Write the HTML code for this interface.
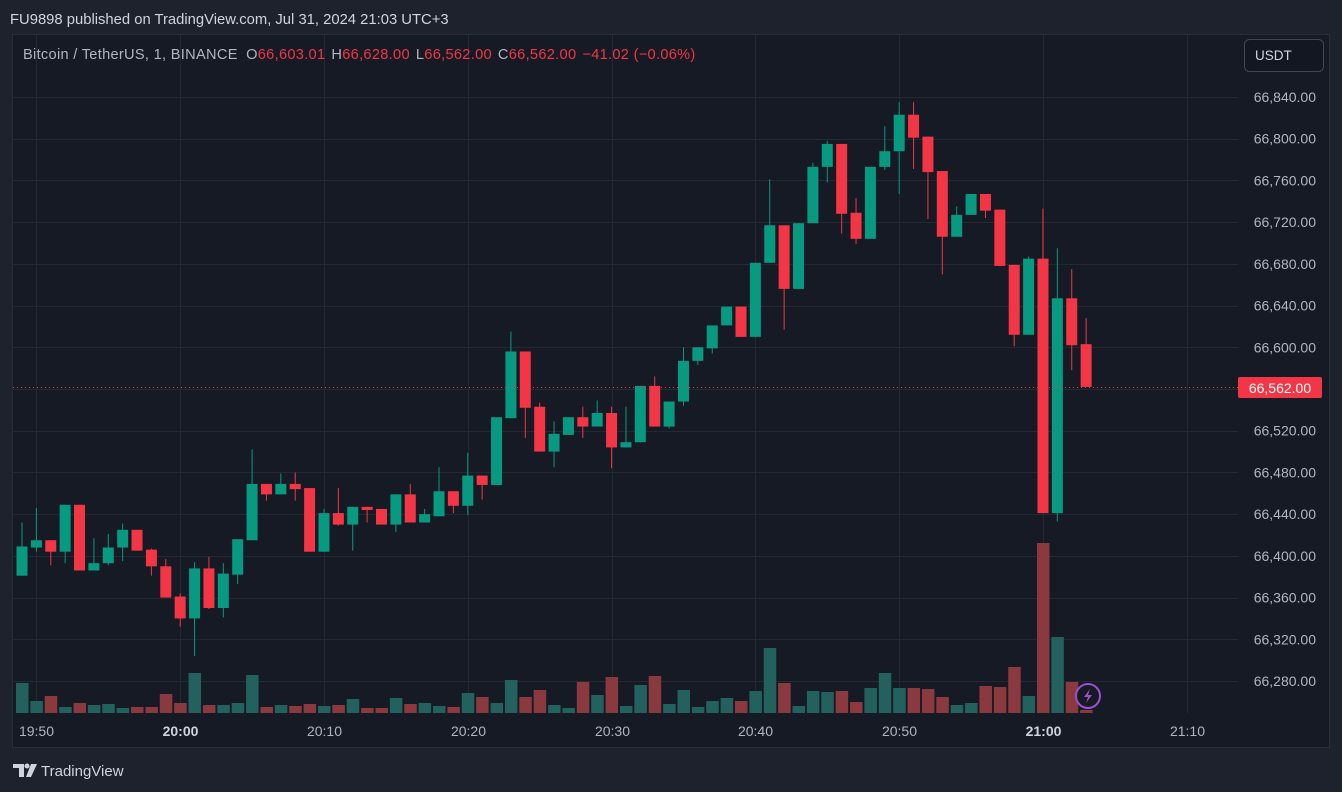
<!DOCTYPE html>
<html><head><meta charset="utf-8"><style>
html,body{margin:0;padding:0;background:#1e222d;width:1342px;height:792px;overflow:hidden;font-family:"Liberation Sans",sans-serif;}
svg{display:block}
</style></head><body>
<svg id="chart" width="1342" height="792" xmlns="http://www.w3.org/2000/svg">
<rect x="0" y="0" width="1342" height="792" fill="#1e222d"/>
<text x="10" y="24" font-size="14.8" fill="#d1d4dc">FU9898 published on TradingView.com, Jul 31, 2024 21:03 UTC+3</text>
<rect x="12.5" y="34.5" width="1317" height="713" fill="#161a25" stroke="#2a2e39"/>
<g id="grid"></g>
<g id="vols"></g>
<g id="candles"></g>
<line x1="13" y1="387.5" x2="1238" y2="387.5" stroke="#f23645" stroke-width="1" stroke-dasharray="1,3"/>
<g id="yaxis"></g>
<g id="xaxis"></g>
<text x="23" y="59" font-size="14.6" letter-spacing="0.3" fill="#b2b5be">Bitcoin / TetherUS, 1, BINANCE <tspan dx="4">O</tspan><tspan fill="#f23645">66,603.01</tspan><tspan dx="6">H</tspan><tspan fill="#f23645">66,628.00</tspan><tspan dx="6">L</tspan><tspan fill="#f23645">66,562.00</tspan><tspan dx="6">C</tspan><tspan fill="#f23645">66,562.00</tspan><tspan dx="6" fill="#f23645">−41.02 (−0.06%)</tspan></text>
<g>
<rect x="1244.5" y="39.5" width="79" height="32" rx="5" fill="#131722" stroke="#434651"/>
<text x="1255" y="60" font-size="13.5" fill="#d1d4dc">USDT</text>
</g>
<g>
<rect x="1238" y="377" width="84" height="21" rx="2" fill="#f23645"/>
<text x="1280" y="393" font-size="14" fill="#ffffff" text-anchor="middle">66,562.00</text>
</g>
<g>
<circle cx="1088" cy="696" r="12" fill="#161a25" stroke="#9c4fd1" stroke-width="2"/>
<path d="M1090 689 L1084 697 L1088 697 L1086 703 L1092 695 L1088 695 Z" fill="#9c4fd1"/>
</g>
<g>
<path d="M13 764 H24 V777 H19 V768 H13 Z" fill="#d1d4dc"/>
<circle cx="27" cy="766" r="2.5" fill="#d1d4dc"/>
<path d="M31 764 H37 L31 777 H26 Z" fill="#d1d4dc"/>
<text x="41" y="776" font-size="15" fill="#d1d4dc">TradingView</text>
</g>
</svg>
<script>
const opens  = [66381,66408,66415,66404,66449,66386,66393,66408,66425,66406,66390,66361,66340,66388,66350,66382,66415,66469,66459,66469,66465,66404,66441,66430,66447,66445,66430,66459,66432,66438,66462,66448,66477,66468,66532,66596,66543,66500,66516,66533,66524,66537,66504,66509,66563,66524,66548,66587,66599,66621,66639,66610,66681,66717,66656,66719,66773,66795,66729,66704,66773,66788,66823,66802,66769,66706,66727,66747,66732,66679,66612,66685,66441,66647,66603];
const highs  = [66432,66446,66415,66449,66449,66417,66421,66431,66425,66407,66397,66364,66394,66399,66393,66416,66502,66469,66479,66480,66465,66445,66465,66447,66447,66445,66459,66469,66445,66485,66462,66499,66477,66468,66615,66596,66547,66529,66533,66543,66549,66543,66543,66563,66572,66548,66600,66600,66621,66639,66639,66681,66761,66717,66719,66777,66798,66795,66743,66773,66812,66835,66835,66802,66769,66735,66747,66747,66732,66679,66687,66733,66695,66675,66628];
const lows   = [66381,66404,66391,66393,66386,66386,66391,66395,66405,66381,66360,66332,66304,66349,66341,66373,66415,66453,66459,66453,66404,66404,66429,66405,66432,66430,66423,66432,66432,66438,66441,66439,66454,66468,66532,66513,66500,66485,66516,66513,66524,66484,66504,66509,66524,66522,66544,66583,66594,66621,66610,66610,66681,66617,66656,66719,66758,66709,66699,66704,66770,66747,66771,66723,66670,66706,66727,66724,66678,66601,66612,66441,66433,66578,66562];
const closes = [66409,66415,66404,66449,66386,66393,66408,66425,66405,66390,66360,66340,66388,66350,66383,66416,66469,66459,66469,66464,66404,66441,66430,66447,66444,66430,66459,66432,66440,66462,66448,66477,66468,66533,66596,66542,66500,66517,66533,66524,66537,66504,66509,66563,66524,66548,66587,66600,66621,66639,66610,66681,66717,66656,66719,66773,66795,66728,66704,66773,66788,66823,66801,66768,66706,66727,66747,66731,66678,66612,66685,66441,66647,66602,66562];
const volumes = [30,12,17,6,10,8,9,5,6,6,19,10,40,8,8,10,38,6,8,7,9,7,8,14,5,5,15,9,10,7,6,20,16,10,33,16,23,8,5,31,18,36,7,28,37,9,23,6,12,15,12,22,65,30,7,22,21,22,11,25,40,25,25,24,16,8,10,27,26,46,17,170,76,31,3];
const priceTicks = [66280,66320,66360,66400,66440,66480,66520,66560,66600,66640,66680,66720,66760,66800,66840];
const timeLabels = ["19:50","20:00","20:10","20:20","20:30","20:40","20:50","21:00","21:10"];
const timeLabelMinutes = [1,11,21,31,41,51,61,71,81]; // minutes from 19:49

const NS="http://www.w3.org/2000/svg";
function yOf(p){return 97+(66840-p)*1.0429;}
function xOf(i){return 22+i*14.38;}
function vOf(v){return 713-v;}
function mk(tag,attrs,parent){const e=document.createElementNS(NS,tag);for(const k in attrs)e.setAttribute(k,attrs[k]);parent.appendChild(e);return e;}
const grid=document.getElementById('grid'),vols=document.getElementById('vols'),cg=document.getElementById('candles'),ya=document.getElementById('yaxis'),xa=document.getElementById('xaxis');
priceTicks.forEach(p=>{
  const y=Math.round(yOf(p))+0.5;
  const l=mk('line',{x1:13,x2:1238,y1:y,y2:y,stroke:'#242833'},grid);
  
  
  const t=mk('text',{x:1316,y:yOf(p)+5,'font-size':14,fill:'#b2b5be','text-anchor':'end'},ya);
  t.textContent=p.toLocaleString('en-US',{minimumFractionDigits:2});
  
  
});
timeLabels.forEach((s,k)=>{
  const x=Math.round(xOf(timeLabelMinutes[k]))+0.5;
  const l=mk('line',{x1:x,x2:x,y1:35,y2:713,stroke:'#242833'},grid);
  
  
  const bold=(s==="20:00"||s==="21:00");
  const t=mk('text',{x:x,y:736,'font-size':14,fill:bold?'#d1d4dc':'#b2b5be','font-weight':bold?'bold':'normal','text-anchor':'middle'},xa);
  t.textContent=s;
  
  
});
opens.forEach((o,i)=>{
  const c=closes[i],up=c>=o,x=xOf(i);
  const col=up?'#089981':'#f23645';
  const vb=mk('rect',{x:x-6,y:vOf(volumes[i]),width:12.5,height:volumes[i],fill:up?'#22615e':'#8a3a3f'},vols);
  
  
  const w=mk('line',{x1:x,x2:x,y1:yOf(highs[i]),y2:yOf(lows[i]),stroke:col,'stroke-width':1},cg);
  
  
  const top=yOf(Math.max(o,c)),bot=yOf(Math.min(o,c));
  const b=mk('rect',{x:x-5.5,y:top,width:11,height:Math.max(1,bot-top),fill:col},cg);
  
  
});
</script>
</body></html>
